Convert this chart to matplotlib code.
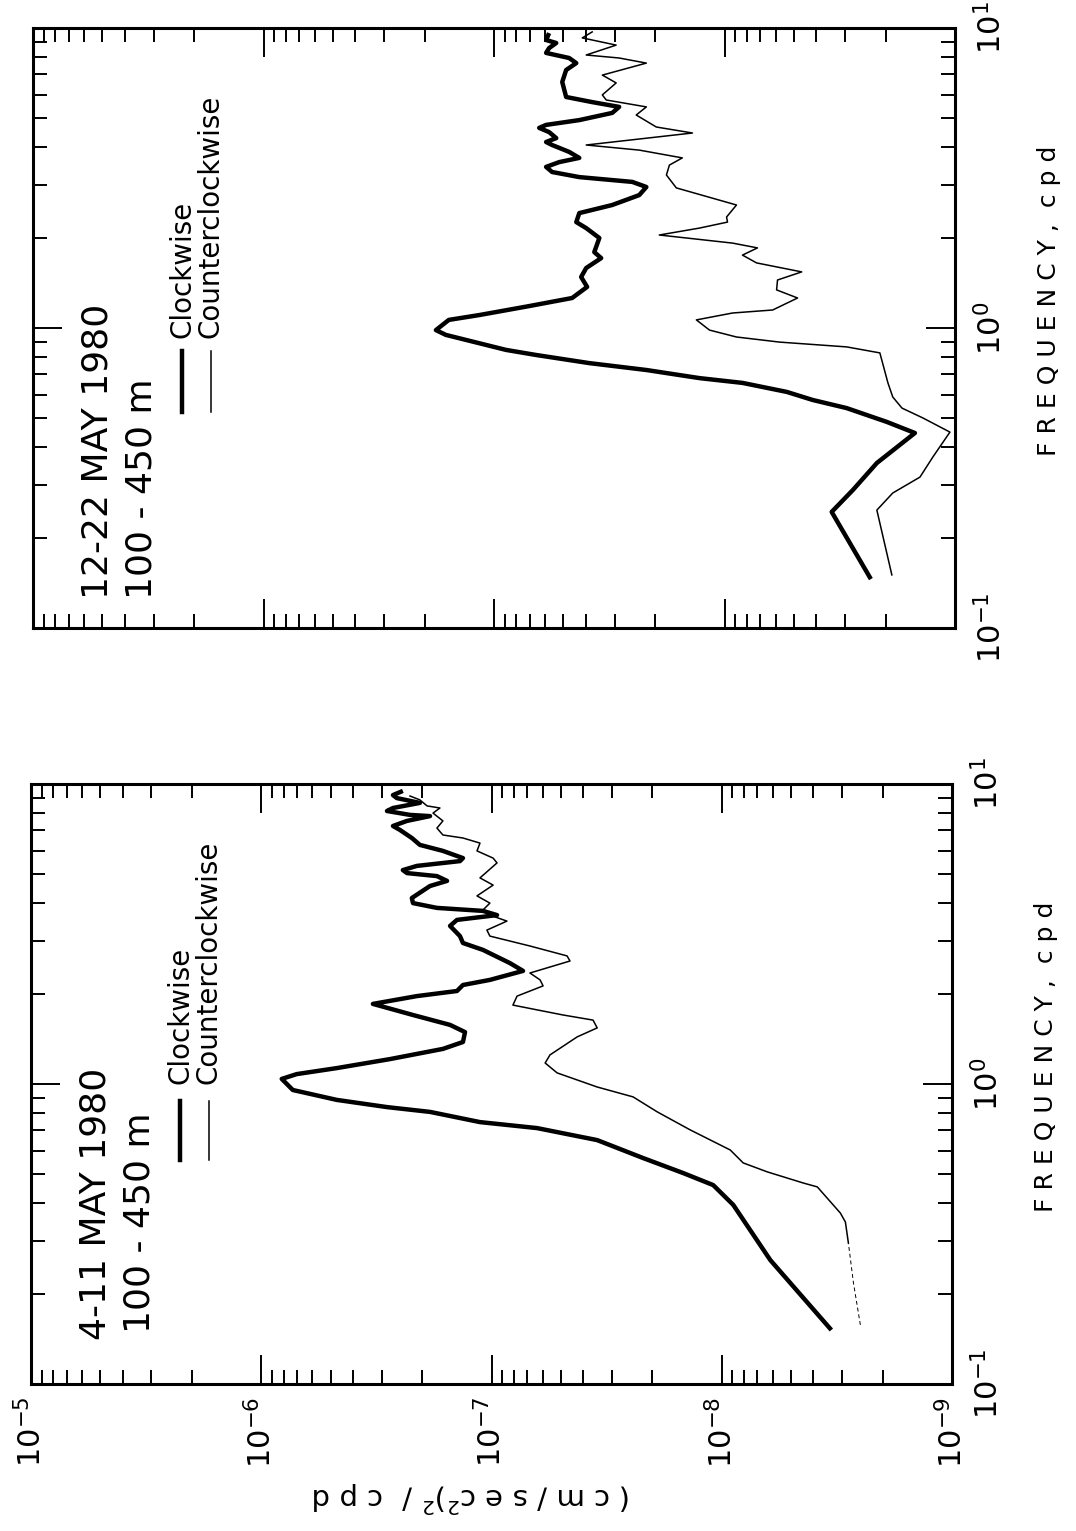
import numpy as np
import matplotlib.pyplot as plt
from matplotlib.ticker import LogLocator, NullFormatter

plt.rcParams['font.family'] = ['DejaVu Sans']
plt.rcParams['mathtext.fontset'] = 'dejavusans'

# %% Data: log10 of frequency (cpd) and log10 of spectral density ((cm/sec^2)^2/cpd)
# 4-11 May 1980, 100-450 m (lower panel)
may4_cw_logf = [-0.820, -0.587, -0.403, -0.337, -0.297, -0.247, -0.187, -0.147, -0.127, -0.093,
                -0.077, -0.053, -0.020, 0.017, 0.033, 0.053, 0.083, 0.117, 0.140, 0.173,
                0.197, 0.230, 0.267, 0.293, 0.310, 0.330, 0.347, 0.377, 0.403, 0.447,
                0.470, 0.493, 0.527, 0.547, 0.563, 0.577, 0.587, 0.603, 0.620, 0.660,
                0.677, 0.693, 0.703, 0.713, 0.727, 0.743, 0.753, 0.777, 0.797, 0.820,
                0.847, 0.860, 0.877, 0.893, 0.897, 0.910, 0.920, 0.937, 0.953, 0.963, 0.977]
may4_cw_logp = [-8.476, -8.211, -8.050, -7.963, -7.833, -7.659, -7.459, -7.198, -6.950, -6.733,
                -6.546, -6.328, -6.137, -6.089, -6.154, -6.328, -6.559, -6.789, -6.876, -6.885,
                -6.820, -6.659, -6.485, -6.676, -6.850, -6.876, -6.993, -7.137, -7.080, -6.963,
                -6.876, -6.863, -6.820, -6.850, -7.024, -6.963, -6.763, -6.659, -6.654, -6.733,
                -6.807, -6.763, -6.633, -6.615, -6.676, -6.863, -6.876, -6.789, -6.689, -6.654,
                -6.602, -6.572, -6.633, -6.733, -6.646, -6.546, -6.572, -6.689, -6.589, -6.572, -6.615]

may4_ccw_logf = [-0.803, -0.663, -0.530, -0.460, -0.430, -0.343, -0.330, -0.293, -0.263, -0.220,
                 -0.153, -0.093, -0.043, -0.010, 0.037, 0.070, 0.097, 0.157, 0.187, 0.213,
                 0.230, 0.263, 0.293, 0.327, 0.347, 0.370, 0.410, 0.427, 0.460, 0.493,
                 0.513, 0.543, 0.563, 0.580, 0.603, 0.627, 0.663, 0.687, 0.737, 0.753,
                 0.777, 0.803, 0.820, 0.830, 0.853, 0.877, 0.903, 0.920, 0.927, 0.947, 0.960]
may4_ccw_logp = [-8.602, -8.572, -8.550, -8.537, -8.515, -8.415, -8.354, -8.198, -8.093, -8.037,
                 -7.863, -7.720, -7.615, -7.459, -7.285, -7.233, -7.254, -7.372, -7.459, -7.441,
                 -7.311, -7.093, -7.111, -7.224, -7.211, -7.167, -7.341, -7.328, -7.167, -6.993,
                 -6.980, -7.067, -6.993, -6.963, -6.993, -6.937, -7.007, -6.950, -7.024, -7.007,
                 -6.937, -6.950, -6.876, -6.789, -6.763, -6.789, -6.746, -6.776, -6.720, -6.689, -6.646]

# 12-22 May 1980, 100-450 m (upper panel)
may12_cw_logf = [-0.837, -0.613, -0.540, -0.450, -0.350, -0.313, -0.267, -0.240, -0.213, -0.183,
                 -0.167, -0.140, -0.117, -0.090, -0.073, -0.023, -0.007, 0.027, 0.043, 0.073,
                 0.100, 0.137, 0.170, 0.200, 0.233, 0.253, 0.300, 0.333, 0.353, 0.383,
                 0.410, 0.443, 0.470, 0.487, 0.503, 0.520, 0.537, 0.553, 0.567, 0.587,
                 0.610, 0.620, 0.633, 0.653, 0.667, 0.677, 0.693, 0.717, 0.737, 0.753,
                 0.770, 0.820, 0.860, 0.883, 0.900, 0.917, 0.933, 0.950, 0.960, 0.983]
may12_cw_logp = [-8.635, -8.465, -8.557, -8.661, -8.826, -8.704, -8.530, -8.383, -8.270, -8.078,
                 -7.891, -7.661, -7.413, -7.183, -7.052, -6.791, -6.748, -6.804, -6.935, -7.152,
                 -7.339, -7.404, -7.378, -7.400, -7.465, -7.435, -7.457, -7.400, -7.357, -7.370,
                 -7.513, -7.630, -7.661, -7.600, -7.370, -7.252, -7.226, -7.283, -7.370, -7.326,
                 -7.252, -7.226, -7.270, -7.239, -7.196, -7.226, -7.370, -7.513, -7.543, -7.426,
                 -7.313, -7.296, -7.313, -7.357, -7.326, -7.226, -7.239, -7.270, -7.226, -7.239]

may12_ccw_logf = [-0.823, -0.607, -0.550, -0.497, -0.430, -0.347, -0.300, -0.267, -0.230, -0.183,
                  -0.083, -0.063, -0.047, -0.030, -0.007, 0.027, 0.050, 0.060, 0.100, 0.127,
                  0.160, 0.187, 0.217, 0.243, 0.267, 0.283, 0.310, 0.333, 0.353, 0.370,
                  0.410, 0.467, 0.510, 0.543, 0.567, 0.593, 0.610, 0.650, 0.670, 0.710,
                  0.737, 0.760, 0.777, 0.817, 0.843, 0.883, 0.900, 0.910, 0.943, 0.967, 0.987]
may12_ccw_logp = [-8.726, -8.661, -8.730, -8.848, -8.904, -8.978, -8.861, -8.770, -8.730, -8.709,
                  -8.674, -8.530, -8.239, -8.052, -7.935, -7.878, -8.035, -8.209, -8.317, -8.226,
                  -8.230, -8.335, -8.139, -8.078, -8.143, -8.035, -7.717, -7.891, -8.013, -8.009,
                  -8.052, -7.791, -7.748, -7.761, -7.817, -7.630, -7.400, -7.861, -7.704, -7.617,
                  -7.661, -7.487, -7.470, -7.530, -7.470, -7.661, -7.543, -7.400, -7.530, -7.383, -7.426]

titles = ['4-11 MAY 1980', '12-22 MAY 1980']
depth = '100 - 450 m'
legend_labels = ['Clockwise', 'Counterclockwise']
psd_ticks = [1e-5, 1e-6, 1e-7, 1e-8, 1e-9]
freq_ticks = [0.1, 1, 10]

# %% Figure (whole page is drawn rotated by 90 degrees)
W, H = 1076, 1531
fig = plt.figure(figsize=(W / 100, H / 100), dpi=100)

ax_low = fig.add_axes([31 / W, (H - 1384) / H, 921 / W, 600 / H])
ax_up = fig.add_axes([33 / W, (H - 628) / H, 922 / W, 600 / H])

panels = [
    (ax_low, may4_cw_logf, may4_cw_logp, may4_ccw_logf, may4_ccw_logp, titles[0], True),
    (ax_up, may12_cw_logf, may12_cw_logp, may12_ccw_logf, may12_ccw_logp, titles[1], False),
]

for ax, cwf, cwp, ccf, ccp, title, is_low in panels:
    cwf, cwp = 10 ** np.array(cwf), 10 ** np.array(cwp)
    ccf, ccp = 10 ** np.array(ccf), 10 ** np.array(ccp)
    ax.plot(cwp, cwf, color='black', lw=3.2, solid_joinstyle='round', solid_capstyle='butt')
    if is_low:
        # faint start of the counterclockwise trace
        ax.plot(ccp[:3], ccf[:3], color='black', lw=0.7, ls=(0, (4, 3)))
        ax.plot(ccp[2:], ccf[2:], color='black', lw=1.1, solid_joinstyle='round')
    else:
        ax.plot(ccp, ccf, color='black', lw=1.1, solid_joinstyle='round')

    ax.set_xscale('log')
    ax.set_yscale('log')
    ax.set_xticks(psd_ticks)
    ax.set_yticks(freq_ticks)
    ax.set_xlim(psd_ticks[0], psd_ticks[-1])
    ax.set_ylim(freq_ticks[0], freq_ticks[-1])
    for a in (ax.xaxis, ax.yaxis):
        a.set_minor_locator(LogLocator(base=10, subs=np.arange(2, 10), numticks=12))
        a.set_minor_formatter(NullFormatter())
    for s in ax.spines.values():
        s.set_linewidth(2.2)
    ax.tick_params(which='both', direction='in', top=True, bottom=True, left=True, right=True,
                   width=1.4, labelleft=False, labeltop=False, labelright=True,
                   labelbottom=is_low, labelsize=22)
    ax.tick_params(which='major', length=21)
    ax.tick_params(which='minor', length=10)
    ax.tick_params(axis='x', labelrotation=90, pad=9)
    ax.tick_params(axis='y', labelrotation=90, pad=14)
    for lab in ax.get_yticklabels():
        lab.set_va('center')

    # titles and legend (rotated)
    ax.text(0.070, 0.073 if is_low else 0.048, title, rotation=90, ha='center', va='bottom',
            fontsize=26, transform=ax.transAxes)
    ax.text(0.118, 0.085 if is_low else 0.048, depth, rotation=90, ha='center', va='bottom',
            fontsize=26, transform=ax.transAxes)
    y0, y1 = (0.373, 0.472) if is_low else (0.36, 0.462)
    ax.plot([0.162, 0.162], [y0, y1], color='black', lw=3.2, transform=ax.transAxes)
    ax.plot([0.193, 0.193], [y0, y1], color='black', lw=1.1, transform=ax.transAxes)
    ty = 0.50 if is_low else 0.483
    ax.text(0.162, ty, legend_labels[0], rotation=90, ha='center', va='bottom',
            fontsize=20, transform=ax.transAxes)
    ax.text(0.193, ty, legend_labels[1], rotation=90, ha='center', va='bottom',
            fontsize=20, transform=ax.transAxes)

    ax.text(1.102, 0.545, 'F R E Q U E N C Y ,  c p d', rotation=90, ha='center', va='center',
            fontsize=18, transform=ax.transAxes)

fig.text(472 / W, 1 - 1497 / H, '( c m / s e c$^{2}$)$^{2}$ /  c p d', rotation=180,
         ha='center', va='center', fontsize=21)

fig.savefig('out.png', dpi=100, facecolor='white')
